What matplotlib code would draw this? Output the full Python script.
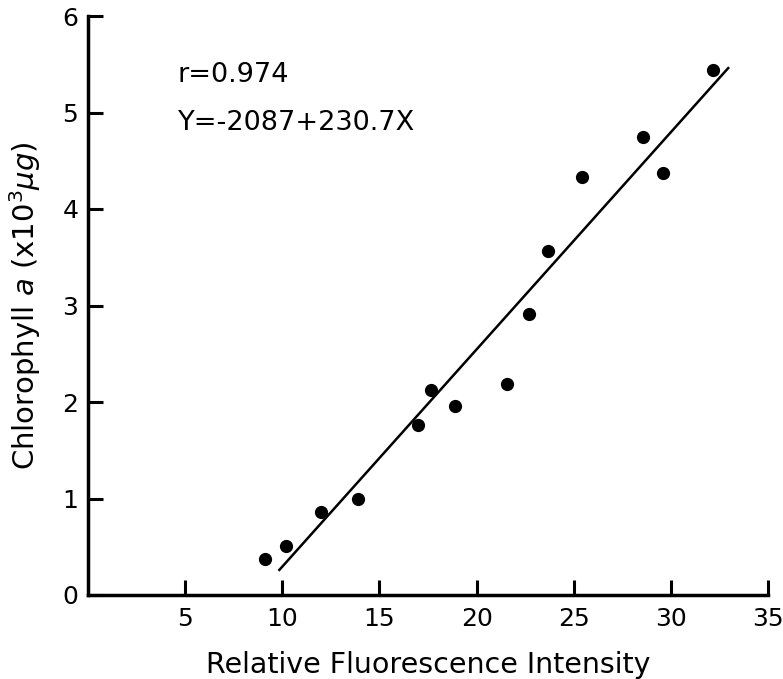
import matplotlib
matplotlib.use("Agg")
import matplotlib.pyplot as plt

# Data
fluor_x = [9.1, 10.2, 12.0, 13.9, 17.0, 17.65, 18.9, 21.55, 22.7, 23.7, 25.45, 28.55, 29.6, 32.15]
chl_y = [0.37, 0.51, 0.86, 1.0, 1.76, 2.12, 1.96, 2.19, 2.91, 3.56, 4.33, 4.75, 4.37, 5.44]
fit_x = [9.85, 32.95]
fit_y = [0.26, 5.46]
x_ticks = [5, 10, 15, 20, 25, 30, 35]
y_ticks = [0, 1, 2, 3, 4, 5, 6]

plt.rcParams['font.family'] = ['DejaVu Sans']
plt.rcParams['mathtext.fontset'] = 'dejavusans'

fig = plt.figure(figsize=(7.83, 6.79), dpi=100)
ax = fig.add_axes([88/783, 1-595/679, (768-88)/783, (595-16)/679])

ax.plot(fluor_x, chl_y, 'o', color='black', ms=8.5, zorder=3)
ax.plot(fit_x, fit_y, '-', color='black', lw=1.8)

ax.set_xlim(0, 35)
ax.set_ylim(0, 6)
ax.set_xticks(x_ticks)
ax.set_yticks(y_ticks)
ax.tick_params(direction='in', length=11, width=2.2, labelsize=18)
ax.tick_params(axis='x', pad=9)
ax.tick_params(axis='y', pad=7)
for s in ['top', 'right']:
    ax.spines[s].set_visible(False)
for s in ['left', 'bottom']:
    ax.spines[s].set_linewidth(2.5)

ax.set_xlabel('Relative Fluorescence Intensity', fontsize=20.5, labelpad=14)
ax.set_ylabel(r'Chlorophyll $\mathit{a}$ (x10$^3$$\mathit{\mu g}$)', fontsize=21, labelpad=14)

ax.text(178/783, 1-82/679, 'r=0.974', transform=fig.transFigure, fontsize=19.5)
ax.text(178/783, 1-130/679, 'Y=-2087+230.7X', transform=fig.transFigure, fontsize=19.5)

fig.savefig('out.png', dpi=100)
